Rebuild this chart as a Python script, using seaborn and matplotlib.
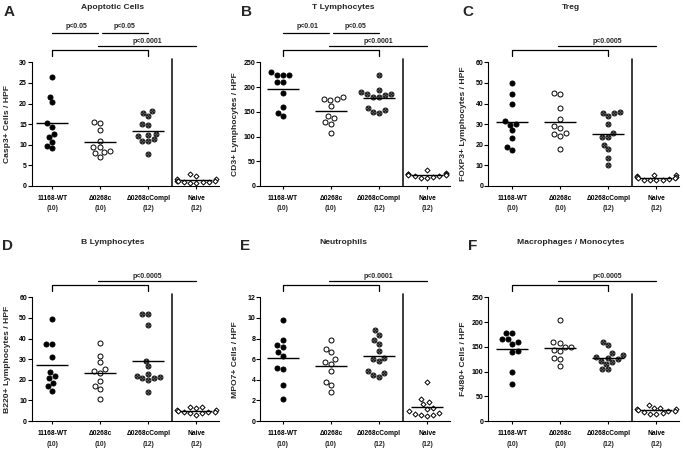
import numpy as np
import pandas as pd
import matplotlib
matplotlib.use("Agg")
import matplotlib.pyplot as plt
from matplotlib.path import Path
from matplotlib.transforms import blended_transform_factory, offset_copy
import seaborn as sns

# ---------------- data ----------------
GROUPS = ["11168-WT", "\u03940268c", "\u03940268cCompl", "Naive"]
GROUP_N = ["(10)", "(10)", "(12)", "(12)"]

# A  Apoptotic cells (Casp3+ / HPF)
CASP3_WT = [26.5, 21.7, 20.4, 15.2, 14.3, 12.7, 11.8, 10.6, 9.7, 9.1]
CASP3_MUT = [15.5, 15.3, 13.6, 10.9, 9.4, 9.4, 8.4, 8.3, 7.9, 7.1]
CASP3_COMPL = [18.1, 17.6, 16.9, 15.1, 14.9, 12.7, 12.4, 12.1, 11.3, 11.0, 10.9, 7.7]
CASP3_NAIVE = [2.8, 2.4, 1.8, 1.7, 1.3, 1.2, 1.1, 1.0, 0.9, 0.9, 0.8, 0.8]

# B  T lymphocytes (CD3+ / HPF)
CD3_WT = [230, 224, 224, 224, 211, 210, 188, 159, 147, 141]
CD3_MUT = [179, 176, 176, 174, 162, 142, 137, 129, 126, 107]
CD3_COMPL = [224, 195, 189, 185, 185, 183, 179, 179, 158, 153, 150, 148]
CD3_NAIVE = [33, 26, 25, 24, 24, 22, 22, 21, 20, 19, 17, 16]

# C  Treg (FOXP3+ / HPF)
FOXP3_WT = [50.0, 44.5, 39.6, 31.6, 30.1, 29.6, 27.0, 23.5, 18.9, 17.3]
FOXP3_MUT = [45.1, 44.8, 37.7, 32.7, 29.0, 28.3, 25.7, 25.4, 24.4, 17.8]
FOXP3_COMPL = [35.8, 35.4, 35.3, 34.0, 30.1, 25.7, 23.8, 23.8, 19.9, 17.8, 13.4, 10.4]
FOXP3_NAIVE = [5.5, 5.3, 4.9, 4.6, 4.2, 4.0, 3.8, 3.3, 3.0, 3.0, 3.0, 2.9]

# D  B lymphocytes (B220+ / HPF)
B220_WT = [49.5, 37.4, 37.4, 30.9, 23.8, 21.8, 20.7, 18.6, 16.8, 14.6]
B220_MUT = [37.7, 31.6, 28.6, 25.1, 24.1, 23.3, 19.6, 17.2, 15.7, 10.7]
B220_COMPL = [52.1, 51.8, 46.8, 29.3, 26.7, 22.7, 22.0, 21.2, 20.9, 20.7, 19.7, 14.2]
B220_NAIVE = [7.0, 6.8, 6.5, 5.5, 5.2, 5.0, 4.6, 4.4, 4.2, 4.0, 3.9, 3.0]

# E  Neutrophils (MPO7+ / HPF)
MPO_WT = [9.84, 7.83, 7.35, 7.18, 6.67, 6.31, 5.15, 5.02, 3.50, 2.17]
MPO_MUT = [7.83, 7.00, 6.67, 5.99, 5.70, 5.53, 4.85, 3.82, 3.50, 2.82]
MPO_COMPL = [8.83, 8.35, 7.83, 7.51, 6.83, 6.15, 5.99, 5.86, 4.85, 4.66, 4.47, 4.30]
MPO_NAIVE = [3.82, 2.17, 1.84, 1.65, 1.23, 1.17, 1.00, 0.81, 0.68, 0.61, 0.61, 0.52]

# F  Macrophages / monocytes (F4/80+ / HPF)
F480_WT = [177.9, 177.9, 165.8, 165.1, 160.4, 155.7, 141.5, 138.8, 98.4, 74.8]
F480_MUT = [203.5, 159.0, 157.0, 150.3, 149.6, 144.2, 140.8, 127.4, 124.7, 110.5]
F480_COMPL = [159.0, 153.6, 136.8, 132.7, 128.7, 128.0, 124.7, 121.3, 119.5, 115.9, 105.1, 104.5]
F480_NAIVE = [33, 27, 26, 25, 24, 22, 21, 20, 18, 16, 15, 15]

PANEL_LETTERS = ["A", "B", "C", "D", "E", "F"]
PANEL_TITLES = ["Apoptotic Cells", "T Lymphocytes", "Treg",
                "B Lymphocytes", "Neutrophils", "Macrophages / Monocytes"]
Y_LABELS = ["Casp3+ Cells / HPF", "CD3+ Lymphocytes / HPF", "FOXP3+ Lymphocytes / HPF",
            "B220+ Lymphocytes / HPF", "MPO7+ Cells / HPF", "F4/80+ Cells / HPF"]
Y_MAX = [30, 250, 60, 60, 12, 250]
Y_STEP = [5, 50, 10, 10, 2, 50]
PAIR_P = [("p<0.05", "p<0.05"), ("p<0.01", "p<0.05"), None, None, None, None]
GLOBAL_P = ["p<0.0001", "p<0.0001", "p<0.0005", "p<0.0005", "p<0.0001", "p<0.0005"]

PANEL_DATA = [
    [CASP3_WT, CASP3_MUT, CASP3_COMPL, CASP3_NAIVE],
    [CD3_WT, CD3_MUT, CD3_COMPL, CD3_NAIVE],
    [FOXP3_WT, FOXP3_MUT, FOXP3_COMPL, FOXP3_NAIVE],
    [B220_WT, B220_MUT, B220_COMPL, B220_NAIVE],
    [MPO_WT, MPO_MUT, MPO_COMPL, MPO_NAIVE],
    [F480_WT, F480_MUT, F480_COMPL, F480_NAIVE],
]

# ---------------- style ----------------
sns.set_theme(style="ticks")
plt.rcParams["font.family"] = ["Liberation Sans", "DejaVu Sans"]
plt.rcParams["font.weight"] = "bold"
plt.rcParams["axes.labelweight"] = "bold"

W, H = 683, 450
fig = plt.figure(figsize=(W / 100, H / 100), dpi=100)

COL_X0 = [52.3, 283.0, 512.3]
COL_XL = [-0.42, -0.47, -0.50]
XR = 3.48
SPACING = 48.0
ROW_BOTTOM = [186.0, 421.0]
AX_H = 123.7
TITLE_X = [113, 343.5, 571]
TITLE_Y = [7.5, 242]
LETTER_XY = [(9, 11.7), (246.5, 11.7), (467.5, 11.7),
             (7.5, 245.5), (245.5, 245.5), (473, 245.5)]

circle_x = Path.make_compound_path(
    Path.unit_circle(),
    Path([(-0.62, -0.62), (0.62, 0.62)], [Path.MOVETO, Path.LINETO]),
    Path([(-0.62, 0.62), (0.62, -0.62)], [Path.MOVETO, Path.LINETO]),
)
diamond = Path([(0, 1), (1, 0), (0, -1), (-1, 0), (0, 1)],
               [Path.MOVETO, Path.LINETO, Path.LINETO, Path.LINETO, Path.CLOSEPOLY])

STYLES = [
    dict(marker="o", color="black", edgecolor="black"),
    dict(marker="o", color="white", edgecolor="black"),
    dict(marker=circle_x, color="#8a8a8a", edgecolor="#1a1a1a"),
    dict(marker=diamond, color="white", edgecolor="black"),
]

LW = 0.9
for k in range(6):
    r, c = divmod(k, 3)
    xl = COL_XL[c]
    left = COL_X0[c] + xl * SPACING
    width = (XR - xl) * SPACING
    ax = fig.add_axes([left / W, 1 - ROW_BOTTOM[r] / H, width / W, AX_H / H])

    for i, (vals, st) in enumerate(zip(PANEL_DATA[k], STYLES)):
        df = pd.DataFrame({"group": [GROUPS[i]] * len(vals), "value": vals})
        sns.swarmplot(data=df, x="group", y="value", order=GROUPS, ax=ax,
                      size=3.6, linewidth=0.7, zorder=3, **st)
        m = float(np.mean(vals))
        ax.hlines(m, i - 0.33, i + 0.33, color="black", lw=1.0, zorder=4)

    ax.set_xlim(xl, XR)
    ax.set_ylim(0, Y_MAX[k])
    yt = np.arange(0, Y_MAX[k] + Y_STEP[k] / 2, Y_STEP[k])
    ax.set_yticks(yt)
    ax.set_yticklabels([str(int(v)) for v in yt], fontsize=5, fontweight="bold")
    ax.set_xticks(range(4))
    ax.set_xticklabels(GROUPS, fontsize=4.75, fontweight="bold")
    ax.set_xlabel("")
    ax.set_ylabel(Y_LABELS[k], fontsize=6.1, fontweight="bold", va="center")
    ax.yaxis.set_label_coords(-25.0 / width, 0.5)
    sns.despine(ax=ax)
    for sp in ("left", "bottom"):
        ax.spines[sp].set_linewidth(0.8)
        ax.spines[sp].set_color("black")
    ax.tick_params(axis="y", length=2.9, width=0.8, pad=0.8, colors="black")
    ax.tick_params(axis="x", length=2.2, width=0.8, pad=4.0, colors="black")

    # n labels below the group names
    tr = blended_transform_factory(ax.transData, ax.transAxes)
    ntr = offset_copy(tr, fig=fig, y=-23, units="dots")
    for i, n in enumerate(GROUP_N):
        ax.text(i, 0, n, transform=ntr, ha="center", va="center",
                fontsize=4.75, fontweight="bold")

    # vertical divider before Naive
    ax.plot([2.5, 2.5], [0, 1.027], transform=tr, clip_on=False,
            color="#1a1a1a", lw=1.2)

    # significance annotations
    ax.plot([0, 0, 2, 2], [1.051, 1.099, 1.099, 1.051], transform=tr,
            clip_on=False, color="black", lw=LW)
    ax.plot([0.96, 3.0], [1.132, 1.132], transform=tr, clip_on=False,
            color="black", lw=LW)
    ax.text(1.98, 1.168, GLOBAL_P[k], transform=tr, ha="center", va="center",
            fontsize=5, fontweight="bold")
    if PAIR_P[k] is not None:
        ax.plot([0, 0.96], [1.234, 1.234], transform=tr, clip_on=False,
                color="black", lw=LW)
        ax.plot([1.04, 2.0], [1.234, 1.234], transform=tr, clip_on=False,
                color="black", lw=LW)
        ax.text(0.5, 1.288, PAIR_P[k][0], transform=tr, ha="center", va="center",
                fontsize=5, fontweight="bold")
        ax.text(1.5, 1.288, PAIR_P[k][1], transform=tr, ha="center", va="center",
                fontsize=5, fontweight="bold")

    # title and panel letter
    fig.text(TITLE_X[c] / W, 1 - TITLE_Y[r] / H, PANEL_TITLES[k], ha="center",
             va="center", fontsize=6.1, fontweight="bold")
    lx, ly = LETTER_XY[k]
    fig.text(lx / W, 1 - ly / H, PANEL_LETTERS[k], ha="center", va="center",
             fontsize=11, fontweight="bold")

fig.savefig("out.png", dpi=100)
